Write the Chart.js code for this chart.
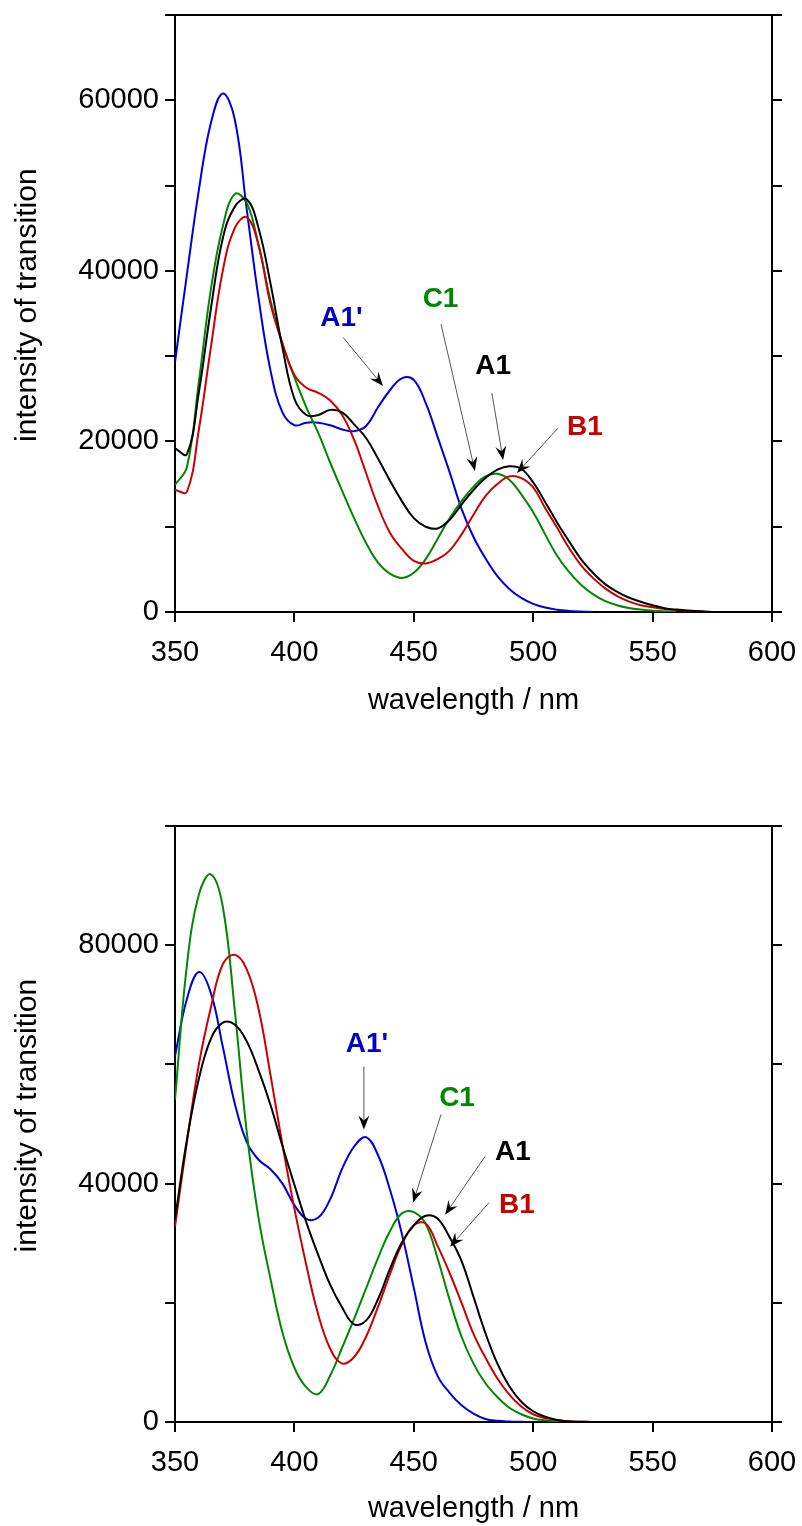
<!DOCTYPE html>
<html>
<head>
<meta charset="utf-8">
<script src="https://cdn.jsdelivr.net/npm/chart.js@4.4.1/dist/chart.umd.min.js"></script>
<style>
  html, body { margin: 0; padding: 0; background: #fff; }
  .panel { position: relative; width: 802px; height: 763px; }
  canvas { display: block; }
</style>
</head>
<body>
<div class="panel"><canvas id="spectrumTop" width="802" height="763"></canvas></div>
<div class="panel"><canvas id="spectrumBottom" width="802" height="763"></canvas></div>
<script>
// ---- upper panel: wavelengths (nm) and transition intensities ----
const wavelengthsTop = [350,355,360,365,370,375,380,385,390,395,400,405,410,415,420,425,430,435,440,445,
  450,455,460,465,470,475,480,485,490,495,500,505,510,515,520,525,530,535,540,545,550,555,560,565,570,575];

const topA1 = [19200,18500,25800,35500,43800,47500,48400,45000,38500,31000,25000,23100,23100,23700,23400,22000,
  20400,18000,15400,13000,11000,10000,9800,10800,12600,14300,15700,16700,17100,16800,15200,12900,10500,8300,
  6200,4600,3300,2400,1700,1200,800,450,280,180,80,0];
const topA1p = [29300,39600,49500,57300,60800,57800,47300,36800,28300,23400,21900,22200,22200,21900,21400,21200,
  21800,24000,26000,27400,27200,24500,20500,16400,12100,8800,6300,4200,2700,1650,950,520,270,130,50,0,
  null,null,null,null,null,null,null,null,null,null];
const topB1 = [14300,14100,21400,31000,40000,45000,46300,43000,36100,31500,27800,26300,25700,24800,23100,20200,
  16300,12400,9300,7400,6000,5700,6200,7200,9100,11400,13600,15000,15900,15700,14600,12200,9900,7500,5500,
  4000,2800,1900,1250,800,550,350,220,120,60,0];
const topC1 = [14900,17000,27000,37800,45200,49000,48000,43000,36500,31400,27500,24000,21000,17500,14200,11000,
  8100,5800,4500,4000,4600,6200,8600,11000,13000,14700,15900,16200,15500,13800,11700,9100,6600,4700,3200,
  2100,1300,800,480,280,160,80,0,null,null,null];

// ---- lower panel ----
const wavelengthsBottom = [350,355,360,365,370,375,380,385,390,395,400,405,410,415,420,425,430,435,440,445,
  450,455,460,465,470,475,480,485,490,495,500,505,510,515,520,525,530];

const bottomA1 = [34000,47400,57600,64300,67000,66700,63900,59000,53200,46300,39800,33500,28000,23000,19200,16400,
  17000,20600,25700,30100,33000,34600,34100,31000,27000,21000,14900,9800,6000,3400,1800,900,350,100,40,10,0];
const bottomA1p = [61400,71000,75500,72000,63000,53500,47000,44000,42400,40000,36400,34100,34300,37400,42500,46200,
  47800,44800,39000,31600,22500,13300,7700,4900,2800,1400,500,200,80,30,0,null,null,null,null,null,null];
const bottomB1 = [32800,47000,60000,69500,76800,78400,76000,69300,58200,46500,35800,26300,18000,12300,9800,10900,
  14300,19300,24800,29800,33000,33300,29500,25000,20000,14800,10800,7300,4600,2600,1300,650,300,120,40,10,0];
const bottomC1 = [54100,76700,88500,91900,86500,69200,48800,34200,24000,15000,9100,5800,4700,7800,12500,17300,
  22400,27500,32000,35000,35200,33200,27400,20500,14300,9800,6500,4200,2400,1300,600,280,120,40,0,null,null];

// tick settings per panel
const topYMax = 70000, topYStep = 10000, topYLabelStep = 20000;
const bottomYMax = 100000, bottomYStep = 20000, bottomYLabelStep = 40000;
const xTicksStep = 50;

const COLORS = { A1: '#000000', A1p: '#0000dd', B1: '#cc0000', C1: '#008800' };
const TEXT_COLORS = { A1: '#000000', A1p: '#0000cc', B1: '#cc0000', C1: '#008800' };

// callout labels: text anchor and arrow in (wavelength, intensity) units
const topCallouts = [
  { key: 'A1p', text: "A1'", at: [419.7, 34700], from: [420.4, 32200], to: [437.1, 26500] },
  { key: 'C1',  text: 'C1',  at: [461.2, 36900], from: [461.4, 33750], to: [475.6, 16530] },
  { key: 'A1',  text: 'A1',  at: [483.2, 29070], from: [482.7, 25670], to: [487.4, 17810] },
  { key: 'B1',  text: 'B1',  at: [521.7, 21920], from: [510.4, 21560], to: [493.2, 16290] }
];
const bottomCallouts = [
  { key: 'A1p', text: "A1'", at: [430.4, 63700], from: [429.1, 59670], to: [429.1, 49080] },
  { key: 'C1',  text: 'C1',  at: [468.1, 54620], from: [461.4, 51600], to: [449.7, 36810] },
  { key: 'A1',  text: 'A1',  at: [491.5, 45710], from: [479.8, 44540], to: [463.1, 34790] },
  { key: 'B1',  text: 'B1',  at: [493.2, 36810], from: [481.5, 36810], to: [465.2, 29410] }
];

const FONT = "'Liberation Sans', Arial, Helvetica, sans-serif";

function calloutPlugin(callouts) {
  return {
    id: 'callouts',
    afterDatasetsDraw(chart) {
      const { ctx, scales: { x, y } } = chart;
      const px = p => [x.getPixelForValue(p[0]), y.getPixelForValue(p[1])];
      ctx.save();
      callouts.forEach(c => {
        const [x0, y0] = px(c.from);
        const [x1, y1] = px(c.to);
        const ang = Math.atan2(y1 - y0, x1 - x0);
        const headLen = 14, headHalf = 5.5, notch = 9;
        // leader line
        ctx.strokeStyle = '#555555';
        ctx.lineWidth = 1;
        ctx.beginPath();
        ctx.moveTo(x0, y0);
        ctx.lineTo(x1 - Math.cos(ang) * notch, y1 - Math.sin(ang) * notch);
        ctx.stroke();
        // barbed arrow head
        const cos = Math.cos(ang), sin = Math.sin(ang);
        ctx.fillStyle = '#000000';
        ctx.beginPath();
        ctx.moveTo(x1, y1);
        ctx.lineTo(x1 - cos * headLen - sin * headHalf, y1 - sin * headLen + cos * headHalf);
        ctx.lineTo(x1 - cos * notch, y1 - sin * notch);
        ctx.lineTo(x1 - cos * headLen + sin * headHalf, y1 - sin * headLen - cos * headHalf);
        ctx.closePath();
        ctx.fill();
        // label
        const [tx, ty] = px(c.at);
        ctx.font = "bold 28px " + FONT;
        ctx.fillStyle = TEXT_COLORS[c.key];
        ctx.textAlign = 'center';
        ctx.textBaseline = 'alphabetic';
        ctx.fillText(c.text, tx, ty + 10);
      });
      ctx.restore();
    }
  };
}

function makeSeries(wl, values, key) {
  return {
    label: key,
    data: wl.map((w, i) => ({ x: w, y: values[i] })).filter(p => p.y !== null),
    borderColor: COLORS[key],
    borderWidth: 2,
    pointRadius: 0,
    fill: false,
    tension: 0.4
  };
}

function buildPanel(canvasId, opt) {
  const tickFont = { family: FONT, size: 29 };
  const titleFont = { family: FONT, size: 29 };
  const frameGrid = { drawOnChartArea: false, drawTicks: true, tickLength: 10, lineWidth: 2, color: '#000' };
  const frameBorder = { display: true, width: 2, color: '#000' };
  return new Chart(document.getElementById(canvasId), {
    type: 'line',
    data: {
      datasets: [
        makeSeries(opt.wl, opt.A1, 'A1'),
        makeSeries(opt.wl, opt.B1, 'B1'),
        makeSeries(opt.wl, opt.C1, 'C1'),
        makeSeries(opt.wl, opt.A1p, 'A1p')
      ]
    },
    options: {
      responsive: false,
      animation: false,
      devicePixelRatio: 1,
      layout: { padding: { top: opt.padTop, left: 0, right: 0, bottom: 0 } },
      plugins: { legend: { display: false }, tooltip: { enabled: false } },
      scales: {
        x: {
          type: 'linear', position: 'bottom', min: 350, max: 600,
          ticks: { stepSize: xTicksStep, font: tickFont, color: '#000', padding: 14, maxRotation: 0, autoSkip: false,
                   callback: v => String(v) },
          grid: frameGrid, border: frameBorder,
          title: { display: true, text: 'wavelength / nm', font: titleFont, color: '#000',
                   padding: { top: 0, bottom: opt.xTitlePad } },
          afterFit: s => { s.height = opt.xHeight; s.paddingLeft = 0; s.paddingRight = 0; }
        },
        xTop: {
          type: 'linear', position: 'top', axis: 'x', min: 350, max: 600,
          ticks: { display: false },
          grid: { drawOnChartArea: false, drawTicks: false },
          border: frameBorder,
          afterFit: s => { s.height = 0; s.paddingLeft = 0; s.paddingRight = 0; }
        },
        y: {
          type: 'linear', position: 'left', min: 0, max: opt.yMax,
          ticks: { stepSize: opt.yStep, font: tickFont, color: '#000', padding: 6, autoSkip: false,
                   callback: v => (v % opt.yLabelStep === 0 ? String(v) : '') },
          grid: frameGrid, border: frameBorder,
          title: { display: true, text: '  intensity of transition', font: { family: FONT, size: 30 }, color: '#000',
                   padding: { top: 10, bottom: 0 } },
          afterFit: s => { s.width = 175; s.paddingTop = 0; s.paddingBottom = 0; }
        },
        yRight: {
          type: 'linear', position: 'right', axis: 'y', min: 0, max: opt.yMax,
          ticks: { stepSize: opt.yStep, autoSkip: false, callback: () => '' },
          grid: frameGrid, border: frameBorder,
          afterFit: s => { s.width = 30; s.paddingTop = 0; s.paddingBottom = 0; }
        }
      }
    },
    plugins: [calloutPlugin(opt.callouts)]
  });
}

buildPanel('spectrumTop', {
  wl: wavelengthsTop, A1: topA1, A1p: topA1p, B1: topB1, C1: topC1,
  yMax: topYMax, yStep: topYStep, yLabelStep: topYLabelStep,
  padTop: 15, xHeight: 151, xTitlePad: 45, callouts: topCallouts
});
buildPanel('spectrumBottom', {
  wl: wavelengthsBottom, A1: bottomA1, A1p: bottomA1p, B1: bottomB1, C1: bottomC1,
  yMax: bottomYMax, yStep: bottomYStep, yLabelStep: bottomYLabelStep,
  padTop: 63, xHeight: 104, xTitlePad: 0, callouts: bottomCallouts
});
</script>
</body>
</html>
